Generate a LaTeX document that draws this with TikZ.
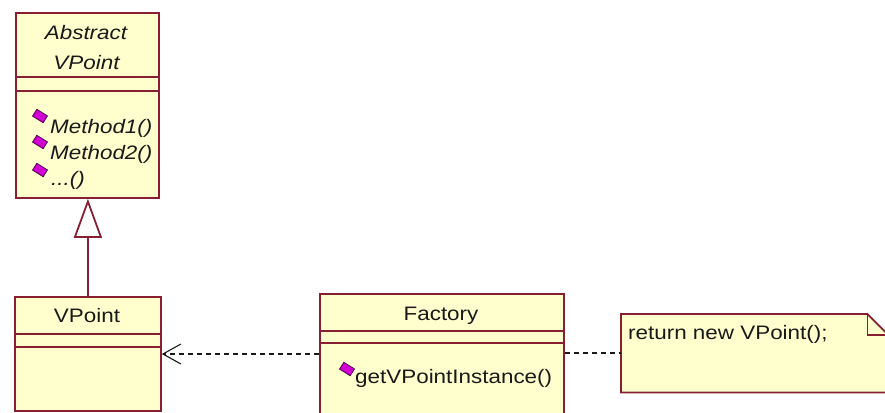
\documentclass[tikz,border=0pt]{standalone}
\usepackage{fontspec}
\newfontfamily\umlfont[FakeStretch=1.15]{Liberation Sans}
\usetikzlibrary{arrows.meta,calc}
\definecolor{umlfill}{RGB}{255,255,206}
\definecolor{umledge}{RGB}{135,30,50}
\definecolor{opfill}{RGB}{210,0,210}
\definecolor{opedge}{RGB}{80,0,80}
\definecolor{inkc}{RGB}{25,25,25}
\begin{document}
\begin{tikzpicture}[x=1pt,y=-1pt,
  classbox/.style={draw=umledge, fill=umlfill, line width=1.8pt, inner sep=0pt, anchor=north west},
  sepline/.style={draw=umledge, line width=1.8pt},
  txt/.style={inner sep=0pt, text=inkc, font=\umlfont\fontsize{19.5}{23}\selectfont},
  opmark/.style={draw=opedge, fill=opfill, line width=0.8pt, inner sep=0pt,
                 minimum width=12.5pt, minimum height=8pt, rotate=-32},
  depline/.style={draw=inkc, line width=1.1pt, dash pattern=on 5pt off 4pt},
]
\useasboundingbox (0,0) rectangle (885,412);
\clip (0,0) rectangle (885,412);

% abstract base class
\node[classbox, minimum width=143pt, minimum height=185pt] (abs) at (15,12) {};
\draw[sepline] (abs.west |- 0,77) -- (abs.east |- 0,77);
\draw[sepline] (abs.west |- 0,91) -- (abs.east |- 0,91);
\node[txt, anchor=base] (absname1) at (86,40) {\itshape Abstract};
\node[txt, anchor=base] (absname2) at (86.5,69) {\itshape VPoint};
\node[opmark] (op1mark) at (40,116) {};
\node[txt, anchor=base west] (op1) at (50,133) {\itshape Method1()};
\node[opmark] (op2mark) at (40,142) {};
\node[txt, anchor=base west] (op2) at (50,159) {\itshape Method2()};
\node[opmark] (op3mark) at (40,170) {};
\node[txt, anchor=base west] (op3) at (51,185) {\itshape ...()};

% concrete class
\node[classbox, minimum width=146pt, minimum height=114pt] (vp) at (14,296) {};
\draw[sepline] (vp.west |- 0,334) -- (vp.east |- 0,334);
\draw[sepline] (vp.west |- 0,347) -- (vp.east |- 0,347);
\node[txt, anchor=base] (vpname) at (87,322) {VPoint};

% factory class
\node[classbox, minimum width=244pt, minimum height=130pt] (fac) at (319,293) {};
\draw[sepline] (fac.west |- 0,331) -- (fac.east |- 0,331);
\draw[sepline] (fac.west |- 0,343) -- (fac.east |- 0,343);
\node[txt, anchor=base] (facname) at (441,320) {Factory};
\node[opmark] (facopmark) at (347,369) {};
\node[txt, anchor=base west] (facop) at (355,383) {getVPointInstance()};

% note with folded corner
\node[inner sep=0pt, minimum width=267pt, minimum height=78pt, anchor=north west] (note) at (621,314) {};
\draw[sepline, fill=umlfill] (note.north west) -- ($(note.north east)+(-21,0)$)
  -- ($(note.north east)+(0,21)$) -- (note.south east) -- (note.south west) -- cycle;
\draw[sepline] ($(note.north east)+(-21,0)$) -- ($(note.north east)+(-21,21)$)
  -- ($(note.north east)+(0,21)$);
\node[txt, anchor=base west] (notetext) at (628,339) {return new VPoint();};

% generalization
\draw[sepline, -{Triangle[open, length=39pt, width=28pt, fill=white]}]
  (vp.north) -- (vp.north |- abs.south);
% dependency
\draw[depline, -{Straight Barb[length=18pt, width=20pt, line width=1.1pt]}]
  (fac.west |- 0,354) -- (vp.east |- 0,354);
% note anchor
\draw[depline] (fac.east |- 0,353) -- (note.west |- 0,353);
\end{tikzpicture}
\end{document}
